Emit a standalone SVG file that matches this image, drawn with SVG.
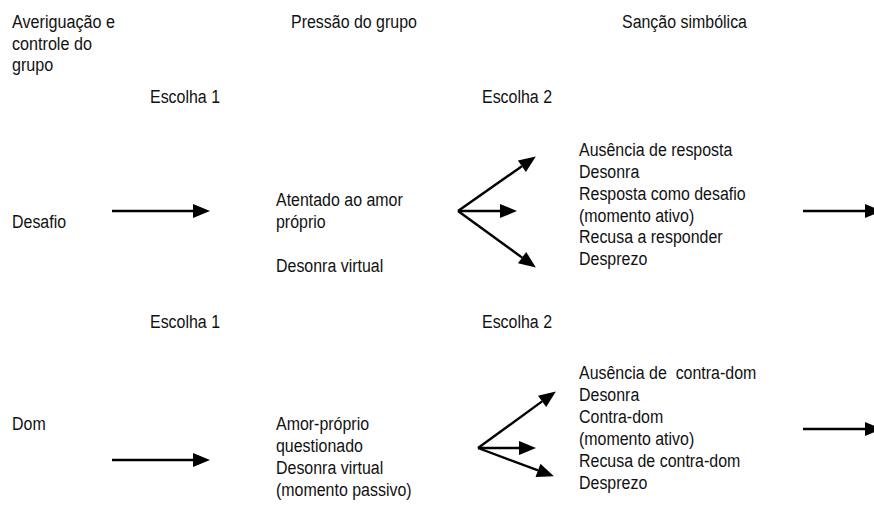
<svg xmlns="http://www.w3.org/2000/svg" width="874" height="506" viewBox="0 0 874 506">
<style>
text{font-family:"Liberation Sans",Arial,sans-serif;font-size:19px;fill:#111}
.c line{stroke:#000;stroke-width:2.4;fill:none}
</style>
<defs>
<marker id="ah" markerUnits="userSpaceOnUse" markerWidth="17" markerHeight="14" refX="0" refY="7" orient="auto" overflow="visible">
<path d="M0,0 L17,7 L0,14 Z" fill="#000"/>
</marker>
</defs>
<rect width="874" height="506" fill="#fff"/>
<g id="h1"><text transform="translate(12,0) scale(0.85,1)"><tspan x="0" y="28">Averiguação e</tspan><tspan x="0" y="50">controle do</tspan><tspan x="0" y="71">grupo</tspan></text></g>
<g id="h2"><text transform="translate(291,0) scale(0.84,1)"><tspan x="0" y="28">Pressão do grupo</tspan></text></g>
<g id="h3"><text transform="translate(622,0) scale(0.84,1)"><tspan x="0" y="28">Sanção simbólica</tspan></text></g>
<g id="e1a"><text transform="translate(150,0) scale(0.84,1)"><tspan x="0" y="103">Escolha 1</tspan></text></g>
<g id="e2a"><text transform="translate(482,0) scale(0.84,1)"><tspan x="0" y="103">Escolha 2</tspan></text></g>
<g id="desafio"><text transform="translate(12,0) scale(0.84,1)"><tspan x="0" y="228">Desafio</tspan></text></g>
<g id="atentado"><text transform="translate(276,0) scale(0.84,1)"><tspan x="0" y="206">Atentado ao amor</tspan><tspan x="0" y="228">próprio</tspan><tspan x="0" y="272">Desonra virtual</tspan></text></g>
<g id="resp1"><text transform="translate(579,0) scale(0.84,1)"><tspan x="0" y="156">Ausência de resposta</tspan><tspan x="0" y="178">Desonra</tspan><tspan x="0" y="200">Resposta como desafio</tspan><tspan x="0" y="222">(momento ativo)</tspan><tspan x="0" y="243">Recusa a responder</tspan><tspan x="0" y="265">Desprezo</tspan></text></g>
<g id="e1b"><text transform="translate(150,0) scale(0.84,1)"><tspan x="0" y="328">Escolha 1</tspan></text></g>
<g id="e2b"><text transform="translate(482,0) scale(0.84,1)"><tspan x="0" y="328">Escolha 2</tspan></text></g>
<g id="dom"><text transform="translate(12,0) scale(0.84,1)"><tspan x="0" y="430">Dom</tspan></text></g>
<g id="amor"><text transform="translate(276,0) scale(0.84,1)"><tspan x="0" y="430">Amor-próprio</tspan><tspan x="0" y="452">questionado</tspan><tspan x="0" y="474">Desonra virtual</tspan><tspan x="0" y="496">(momento passivo)</tspan></text></g>
<g id="resp2"><text transform="translate(579,0) scale(0.84,1)"><tspan x="0" y="379">Ausência de&#160; contra-dom</tspan><tspan x="0" y="401">Desonra</tspan><tspan x="0" y="423">Contra-dom</tspan><tspan x="0" y="445">(momento ativo)</tspan><tspan x="0" y="467">Recusa de contra-dom</tspan><tspan x="0" y="489">Desprezo</tspan></text></g>
<g id="connectors" class="c">
<line x1="112" y1="211" x2="193" y2="211" marker-end="url(#ah)"/>
<line x1="458" y1="211" x2="521.9" y2="166.2" marker-end="url(#ah)"/>
<line x1="458" y1="211" x2="500" y2="211" marker-end="url(#ah)"/>
<line x1="458" y1="211" x2="522.1" y2="257.6" marker-end="url(#ah)"/>
<line x1="803" y1="211" x2="865" y2="211" marker-end="url(#ah)"/>
<line x1="112" y1="460" x2="193" y2="460" marker-end="url(#ah)"/>
<line x1="478" y1="448" x2="542.1" y2="401.4" marker-end="url(#ah)"/>
<line x1="478" y1="448" x2="519" y2="448" marker-end="url(#ah)"/>
<line x1="478" y1="448" x2="538" y2="470.4" marker-end="url(#ah)"/>
<line x1="803" y1="429" x2="865" y2="429" marker-end="url(#ah)"/>
</g>
</svg>
